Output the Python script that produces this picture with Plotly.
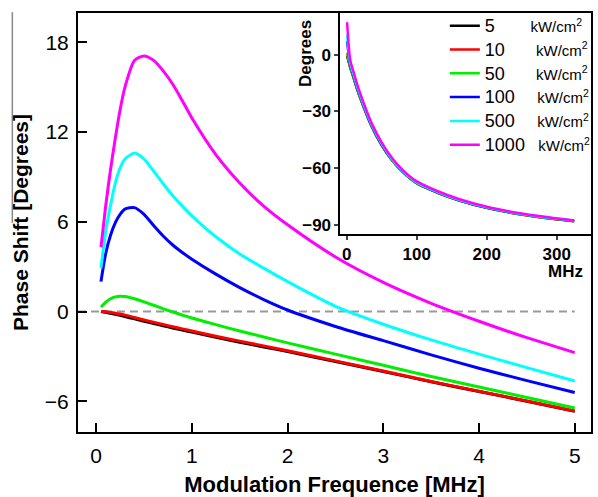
import plotly.graph_objects as go

# ---------------- data ----------------
freq_mhz = [0.05, 0.1, 0.15, 0.2, 0.25, 0.3, 0.4, 0.5, 0.6, 0.7, 0.8, 0.9, 1.0,
            1.25, 1.5, 1.75, 2.0, 2.5, 3.0, 3.5, 4.0, 4.5, 5.0]

phase_5 = [0.0, -0.05, -0.12, -0.19, -0.26, -0.33, -0.49, -0.65, -0.8, -0.95, -1.1, -1.24, -1.38,
           -1.72, -2.05, -2.37, -2.68, -3.34, -4.01, -4.7, -5.35, -6.0, -6.67]
phase_10 = [0.0, -0.02, -0.06, -0.11, -0.17, -0.24, -0.4, -0.56, -0.72, -0.87, -1.02, -1.16, -1.3,
            -1.65, -1.98, -2.3, -2.62, -3.3, -3.98, -4.68, -5.33, -5.99, -6.66]
phase_50 = [0.3, 0.62, 0.85, 0.98, 1.02, 1.0, 0.85, 0.65, 0.42, 0.18, -0.03, -0.24, -0.43,
            -0.88, -1.3, -1.7, -2.1, -2.85, -3.6, -4.35, -5.05, -5.75, -6.45]
phase_100 = [2.0, 3.9, 5.1, 5.95, 6.5, 6.85, 6.95, 6.5, 5.75, 5.05, 4.45, 3.95, 3.5,
             2.5, 1.6, 0.8, 0.1, -1.0, -1.95, -2.9, -3.8, -4.62, -5.42]
phase_500 = [2.9, 5.4, 7.1, 8.6, 9.6, 10.2, 10.6, 10.2, 9.4, 8.55, 7.75, 7.05, 6.4,
             5.0, 3.85, 2.9, 2.0, 0.35, -0.85, -1.9, -2.85, -3.75, -4.65]
phase_1000 = [4.3, 7.1, 9.5, 11.6, 13.5, 15.0, 16.8, 17.1, 16.8, 16.1, 15.2, 14.1, 12.95,
              10.5, 8.6, 7.05, 5.8, 3.65, 1.95, 0.55, -0.65, -1.75, -2.75]

inset_freq = [0.5, 5, 10, 15, 25, 35, 50, 65, 80, 100, 130, 160, 200, 250, 300, 325]
inset_5 = [-0.5, -6.7, -12.5, -18.5, -28.5, -37.5, -48, -56, -62, -68, -73, -77, -81, -84.5, -87, -88]
inset_10 = [-0.4, -6.6, -12.4, -18.4, -28.4, -37.4, -48, -56, -62, -68, -73, -77, -81, -84.5, -87, -88]
inset_50 = [1.0, -6.4, -12.2, -18.2, -28.2, -37.3, -47.8, -55.9, -61.9, -67.9, -72.9, -76.9, -80.9, -84.4, -86.9, -87.9]
inset_100 = [7.0, -5.4, -11.5, -17.6, -27.8, -37.0, -47.5, -55.6, -61.7, -67.7, -72.8, -76.8, -80.8, -84.3, -86.8, -87.8]
inset_500 = [10.6, -4.6, -10.9, -17.1, -27.4, -36.6, -47.2, -55.4, -61.5, -67.5, -72.6, -76.7, -80.7, -84.2, -86.7, -87.7]
inset_1000 = [17.1, -2.8, -9.5, -15.9, -26.4, -35.8, -46.5, -54.8, -61.0, -67.0, -72.2, -76.3, -80.4, -84.0, -86.6, -87.6]

power_labels = ["5", "10", "50", "100", "500", "1000"]
unit_label = "kW/cm<sup>2</sup>"
colors = ["#000000", "#ff0000", "#00ee00", "#0000ff", "#00ffff", "#ff00ff"]

main_series = [phase_5, phase_10, phase_50, phase_100, phase_500, phase_1000]
inset_series = [inset_5, inset_10, inset_50, inset_100, inset_500, inset_1000]

x_ticks = [0, 1, 2, 3, 4, 5]
y_ticks = [-6, 0, 6, 12, 18]
inset_x_ticks = [0, 100, 200, 300]
inset_y_ticks = [0, -30, -60, -90]
zero_line_x = [-0.19, 5.0]
zero_line_y = [0, 0]

# ---------------- figure ----------------
FONT = "Arial, 'Liberation Sans', sans-serif"
pad = {1: 8, 2: 7, 3: 5, 4: 3}

fig = go.Figure()

fig.add_trace(go.Scatter(x=zero_line_x, y=zero_line_y, mode="lines",
                         line=dict(color="#999999", width=2, dash="8px,5px"),
                         showlegend=False, hoverinfo="skip"))

for lab, col, ys in zip(power_labels, colors, main_series):
    fig.add_trace(go.Scatter(x=freq_mhz, y=ys, mode="lines",
                             line=dict(color=col, width=3, shape="spline", smoothing=0.7),
                             showlegend=False))

for lab, col, ys in zip(power_labels, colors, inset_series):
    name = ("<span style='font-size:18px'>" + lab + "</span>"
            + "\u00a0" * pad[len(lab)]
            + "<span style='font-size:15px'>" + unit_label + "</span>")
    fig.add_trace(go.Scatter(x=inset_freq, y=ys, mode="lines", name=name,
                             line=dict(color=col, width=2.5, shape="spline", smoothing=0.8),
                             xaxis="x2", yaxis="y2", showlegend=True))

fig.update_layout(
    width=598, height=497,
    margin=dict(l=78, r=2, t=13, b=57),
    paper_bgcolor="white", plot_bgcolor="white",
    font=dict(family=FONT, color="black"),
    xaxis=dict(domain=[0, 1], range=[-0.19, 5.17], tickvals=x_ticks,
               ticks="inside", ticklen=9, tickwidth=2, tickcolor="black",
               showline=True, linewidth=2, linecolor="black", mirror=True,
               showgrid=False, zeroline=False,
               tickfont=dict(size=21), ticklabelstandoff=4,
               title=dict(text="<b>Modulation Frequence [MHz]</b>",
                          font=dict(size=22), standoff=12)),
    yaxis=dict(domain=[0, 1], range=[-8.06, 19.97], tickvals=y_ticks,
               ticks="inside", ticklen=9, tickwidth=2, tickcolor="black",
               showline=True, linewidth=2, linecolor="black", mirror=True,
               showgrid=False, zeroline=False,
               tickfont=dict(size=21), ticklabelstandoff=3,
               title=dict(text="<b>Phase Shift [Degrees]</b>",
                          font=dict(size=21), standoff=10)),
    xaxis2=dict(domain=[0.5116, 1], range=[-9, 349], anchor="y2",
                tickvals=inset_x_ticks, ticks="outside", ticklen=4, tickwidth=1.5,
                showline=True, linewidth=2, linecolor="black", mirror=True,
                showgrid=False, zeroline=False,
                tickfont=dict(size=17, weight="bold")),
    yaxis2=dict(domain=[0.473, 1], range=[-94.7, 22], anchor="x2",
                tickvals=inset_y_ticks, ticks="outside", ticklen=4, tickwidth=1.5,
                showline=True, linewidth=2, linecolor="black", mirror=True,
                showgrid=False, zeroline=False,
                tickfont=dict(size=17, weight="bold")),
    legend=dict(x=0.7151, y=1.01, xanchor="left", yanchor="top",
                bgcolor="rgba(0,0,0,0)", borderwidth=0,
                font=dict(size=16), tracegroupgap=0),
    shapes=[dict(type="line", xref="paper", yref="paper", layer="above",
                 x0=-0.128, x1=-0.128, y0=1.002, y1=0.499,
                 line=dict(color="#888888", width=1.5))],
    annotations=[
        dict(text="<b>MHz</b>", xref="paper", yref="paper", x=0.9498, y=0.384,
             xanchor="center", yanchor="middle", showarrow=False,
             font=dict(size=17)),
        dict(text="<b>Degrees</b>", xref="paper", yref="paper", x=0.442, y=0.904,
             xanchor="center", yanchor="middle", showarrow=False, textangle=-90,
             font=dict(size=17)),
    ],
)

fig.write_html("out.html")
